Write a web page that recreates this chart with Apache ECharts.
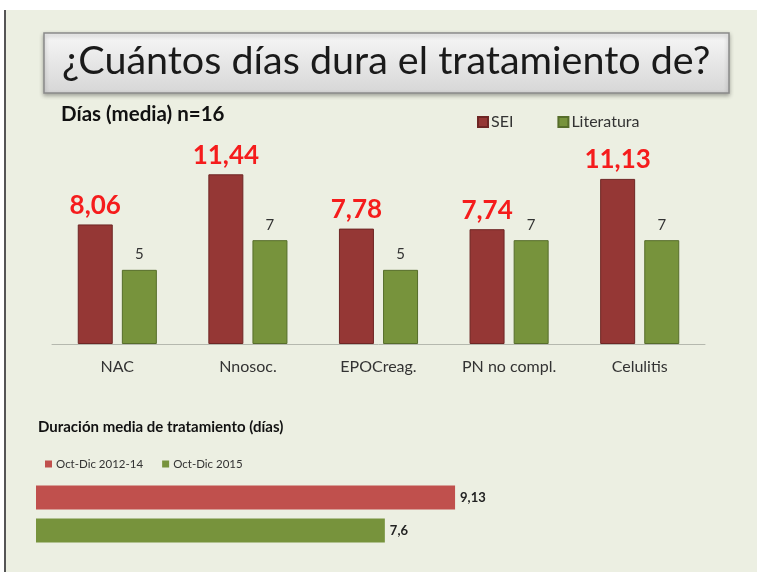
<!DOCTYPE html>
<html>
<head>
<meta charset="utf-8">
<script src="https://cdn.jsdelivr.net/npm/echarts@6/dist/echarts.min.js"></script>
<style>
  html, body { margin: 0; padding: 0; background: #fff; }
  #chart { width: 757px; height: 572px; }
</style>
</head>
<body>
<div id="chart"></div>
<script>
// datos
const categories = ["NAC", "Nnosoc.", "EPOCreag.", "PN no compl.", "Celulitis"];
const sei = [8.06, 11.44, 7.78, 7.74, 11.13];
const literatura = [5, 7, 5, 7, 7];
const periodos = ["Oct-Dic 2012-14", "Oct-Dic 2015"];
const duracion = [9.13, 7.6];

const font = "Lato";
const comma = (p) => String(p.value).replace(".", ",");

const chart = echarts.init(document.getElementById("chart"));

const option = {
  backgroundColor: "#ffffff",
  textStyle: { fontFamily: font },
  graphic: [
    // fondo de la diapositiva
    { type: "rect", z: -10, shape: { x: 6, y: 10, width: 751, height: 562 }, style: { fill: "#ecefe2" } },
    { type: "rect", z: -9, shape: { x: 4, y: 10, width: 2, height: 562 }, style: { fill: "#555" } },
    // caja del titulo
    {
      type: "rect",
      z: -5,
      shape: { x: 44, y: 33, width: 685, height: 60 },
      style: {
        fill: new echarts.graphic.LinearGradient(0, 0, 0, 1, [
          { offset: 0, color: "#f7f7f7" },
          { offset: 1, color: "#d6d6d6" },
        ]),
        stroke: "#8a8a8a",
        lineWidth: 1.5,
        shadowBlur: 4,
        shadowColor: "rgba(0,0,0,0.3)",
        shadowOffsetY: 2,
      },
    },
    {
      type: "text",
      left: 62,
      top: 41,
      style: { text: "¿Cuántos días dura el tratamiento de?", font: "39.5px Lato", fill: "#1a1a1a" },
    },
    {
      type: "text",
      left: 61,
      top: 104,
      style: { text: "Días (media) n=16", font: "bold 20.5px Lato", fill: "#111" },
    },
    {
      type: "text",
      left: 38,
      top: 420,
      style: { text: "Duración media de tratamiento (días)", font: "bold 15px Lato", fill: "#111" },
    },
  ],
  legend: [
    {
      data: ["SEI", "Literatura"],
      left: 472,
      top: 109,
      itemWidth: 10,
      itemHeight: 10,
      itemGap: 44,
      icon: "rect",
      textStyle: { fontSize: 16, color: "#333", fontFamily: font, padding: [0, 0, 0, -2] },
    },
    {
      data: periodos,
      left: 40,
      top: 453,
      itemWidth: 7,
      itemHeight: 7,
      itemGap: 19,
      icon: "rect",
      textStyle: { fontSize: 11.5, color: "#333", fontFamily: font, padding: [0, 0, 0, -1] },
    },
  ],
  grid: [
    { left: 52, top: 166, width: 653, height: 178 },
    { left: 36, top: 485, width: 459, height: 58 },
  ],
  xAxis: [
    {
      gridIndex: 0,
      type: "category",
      data: categories,
      axisLine: { lineStyle: { color: "#b5b8ae" } },
      axisTick: { show: false },
      axisLabel: { fontSize: 16, color: "#333", margin: 15, fontFamily: font },
    },
    { gridIndex: 1, type: "value", min: 0, max: 10, show: false },
  ],
  yAxis: [
    { gridIndex: 0, type: "value", min: 0, max: 12, show: false },
    { gridIndex: 1, type: "category", data: [""], inverse: true, show: false },
  ],
  series: [
    {
      name: "SEI",
      type: "bar",
      xAxisIndex: 0,
      yAxisIndex: 0,
      data: sei,
      barWidth: 35,
      barGap: "26%",
      itemStyle: { color: "#953735", borderColor: "#6e2624", borderWidth: 1 },
      label: {
        show: true,
        position: "top",
        distance: 6,
        formatter: comma,
        fontSize: 26,
        fontWeight: "bold",
        color: "#f51c1c",
        fontFamily: font,
      },
    },
    {
      name: "Literatura",
      type: "bar",
      xAxisIndex: 0,
      yAxisIndex: 0,
      data: literatura,
      barWidth: 35,
      itemStyle: { color: "#77933c", borderColor: "#566d2a", borderWidth: 1 },
      label: { show: true, position: "top", distance: 8, fontSize: 15, color: "#333", fontFamily: font },
    },
    {
      name: periodos[0],
      type: "bar",
      xAxisIndex: 1,
      yAxisIndex: 1,
      data: [duracion[0]],
      barWidth: 24,
      barGap: "38%",
      itemStyle: { color: "#c0504d" },
      label: {
        show: true,
        position: "right",
        distance: 5,
        formatter: comma,
        fontSize: 13,
        fontWeight: "bold",
        color: "#222",
        fontFamily: font,
      },
    },
    {
      name: periodos[1],
      type: "bar",
      xAxisIndex: 1,
      yAxisIndex: 1,
      data: [duracion[1]],
      barWidth: 24,
      itemStyle: { color: "#77933c" },
      label: {
        show: true,
        position: "right",
        distance: 5,
        formatter: comma,
        fontSize: 13,
        fontWeight: "bold",
        color: "#222",
        fontFamily: font,
      },
    },
  ],
};

chart.setOption(option);
window.addEventListener("resize", () => chart.resize());
</script>
</body>
</html>
